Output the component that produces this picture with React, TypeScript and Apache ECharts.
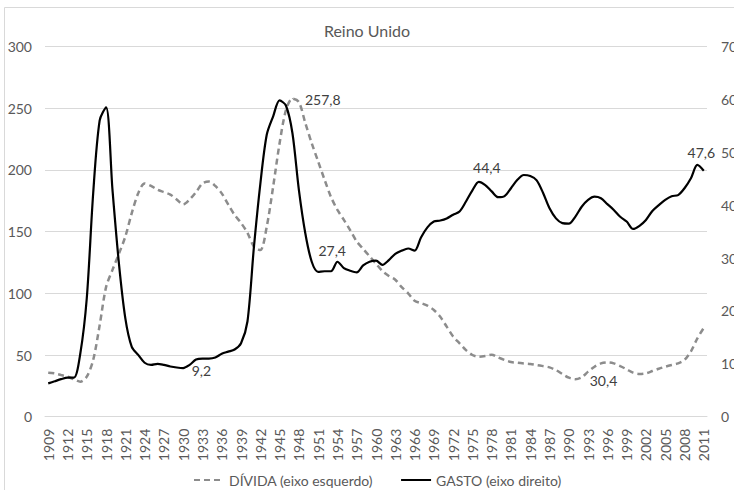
import React, { useEffect, useRef } from "react";
import * as echarts from "echarts";

const years: string[] = [
  "1909","1910","1911","1912","1913","1914","1915","1916","1917","1918",
  "1919","1920","1921","1922","1923","1924","1925","1926","1927","1928",
  "1929","1930","1931","1932","1933","1934","1935","1936","1937","1938",
  "1939","1940","1941","1942","1943","1944","1945","1946","1947","1948",
  "1949","1950","1951","1952","1953","1954","1955","1956","1957","1958",
  "1959","1960","1961","1962","1963","1964","1965","1966","1967","1968",
  "1969","1970","1971","1972","1973","1974","1975","1976","1977","1978",
  "1979","1980","1981","1982","1983","1984","1985","1986","1987","1988",
  "1989","1990","1991","1992","1993","1994","1995","1996","1997","1998",
  "1999","2000","2001","2002","2003","2004","2005","2006","2007","2008",
  "2009","2010","2011",
];

// DÍVIDA (% PIB) – left axis
const debt: number[] = [
  35.7, 35.1, 33.8, 32.4, 30.3, 28.4, 32.4, 46, 74, 105,
  119, 132, 146, 165, 181, 189, 187, 184, 182, 180,
  176, 172, 176, 182, 189, 190.5, 187, 181, 172, 163.5,
  157, 149, 138, 135, 154, 186.5, 221.6, 248.6, 257.8, 255,
  238, 221.6, 206.8, 192, 178, 167.6, 159.5, 151, 142, 136,
  130, 124, 118, 114, 111, 105, 100, 94, 92, 90,
  86.5, 81, 73, 65, 59.5, 54, 50, 48.6, 49.2, 50.3,
  48, 46, 44.3, 43.8, 43.2, 42.7, 41.9, 41, 40, 37.8,
  34.6, 31.6, 30.4, 31.9, 36.5, 40.5, 43.2, 44, 43.2, 41,
  38.4, 35.7, 34.6, 35.1, 37, 38.9, 40.5, 41.9, 43.2, 46,
  53, 63.5, 72,
];

// GASTO (% PIB) – right axis
const spending: number[] = [
  6.3, 6.7, 7.1, 7.4, 7.4, 12.0, 22.4, 42.3, 56.0, 58.5,
  42.9, 29.0, 18.6, 13.2, 11.7, 10.2, 9.8, 10.0, 9.8, 9.5,
  9.3, 9.2, 9.8, 10.8, 11.0, 11.0, 11.2, 11.9, 12.3, 12.7,
  13.9, 18.0, 32.0, 44.0, 53.3, 56.8, 59.8, 58.8, 53.6, 42.9,
  34.7, 29.3, 27.4, 27.5, 27.5, 29.3, 28.1, 27.6, 27.3, 28.6,
  29.3, 29.5, 28.7, 29.6, 30.8, 31.4, 31.8, 31.4, 33.9, 35.8,
  36.9, 37.1, 37.5, 38.2, 38.8, 40.7, 42.8, 44.4, 43.8, 42.6,
  41.5, 41.7, 43.2, 44.8, 45.7, 45.5, 44.7, 42.3, 39.4, 37.5,
  36.6, 36.5, 37.8, 39.7, 41.0, 41.6, 41.3, 40.2, 39.1, 37.8,
  36.9, 35.5, 36.1, 37.2, 38.9, 40.0, 41.0, 41.7, 41.9, 43.2,
  45.1, 47.6, 46.5,
];

const leftTicks = { min: 0, max: 300, interval: 50 };
const rightTicks = { min: 0, max: 70, interval: 10 };

// annotated points: year -> label text
const debtLabels: { year: string; text: string }[] = [
  { year: "1947", text: "257,8" },
  { year: "1991", text: "30,4" },
];
const spendingLabels: { year: string; text: string }[] = [
  { year: "1930", text: "9,2" },
  { year: "1951", text: "27,4" },
  { year: "1976", text: "44,4" },
  { year: "2010", text: "47,6" },
];

const FONT = "Lato, 'Open Sans', sans-serif";
const TEXT = "#595959";

const labelStyles: Record<string, any> = {
  "257,8": { position: "right", distance: 12, offset: [0, 1] },
  "30,4": { position: "right", distance: 14, offset: [0, 1] },
  "9,2": { position: "right", distance: 8, offset: [0, 2] },
  "27,4": { position: "top", distance: 5, offset: [14, -9] },
  "44,4": { position: "top", distance: 5, offset: [8, -2] },
  "47,6": { position: "top", distance: 5, offset: [4, 0] },
};

function buildData(values: number[], labels: { year: string; text: string }[]) {
  return values.map((v, i) => {
    const l = labels.find((x) => x.year === years[i]);
    if (!l) return v;
    return {
      value: v,
      symbol: "circle",
      symbolSize: 1,
      label: {
        show: true,
        formatter: l.text,
        color: "#404040",
        fontSize: 14,
        fontFamily: FONT,
        ...labelStyles[l.text],
      },
    };
  });
}

export default function App() {
  const ref = useRef<HTMLDivElement>(null);
  useEffect(() => {
    if (!ref.current) return;
    const chart = echarts.init(ref.current, null, { renderer: "svg" });
    chart.setOption({
      animation: false,
      backgroundColor: "#ffffff",
      textStyle: { fontFamily: FONT },
      title: {
        text: "Reino Unido",
        left: "center",
        top: 17,
        textStyle: { fontSize: 16, fontWeight: "normal", color: TEXT, fontFamily: FONT },
      },
      grid: {
        left: 45,
        right: 27,
        top: 46.5,
        bottom: 73.3,
        containLabel: false,
        outerBoundsMode: "none",
      },
      legend: {
        top: 468,
        left: 188,
        itemWidth: 30,
        itemHeight: 14,
        itemGap: 27,
        itemStyle: { opacity: 0 },
        textStyle: { fontSize: 14, color: TEXT, fontFamily: FONT },
        data: ["DÍVIDA (eixo esquerdo)", "GASTO (eixo direito)"],
      },
      graphic: [
        {
          type: "rect",
          silent: true,
          z: -1,
          shape: { x: 4.5, y: 7.5, width: 800, height: 600 },
          style: { fill: "none", stroke: "#d9d9d9", lineWidth: 1 },
        },
      ],
      xAxis: {
        type: "category",
        data: years,
        boundaryGap: true,
        axisLine: { show: true, lineStyle: { color: "#d9d9d9", width: 1 } },
        axisTick: { show: false },
        axisLabel: {
          rotate: 90,
          interval: 2,
          color: TEXT,
          fontSize: 14,
          fontFamily: FONT,
          margin: 12,
        },
        splitLine: { show: false },
      },
      yAxis: [
        {
          type: "value",
          position: "left",
          ...leftTicks,
          axisLine: { show: false },
          axisTick: { show: false },
          axisLabel: { color: TEXT, fontSize: 14, fontFamily: FONT, margin: 13 },
          splitLine: { show: true, lineStyle: { color: "#d9d9d9", width: 1 } },
        },
        {
          type: "value",
          position: "right",
          ...rightTicks,
          axisLine: { show: false },
          axisTick: { show: false },
          axisLabel: { color: TEXT, fontSize: 14, fontFamily: FONT, margin: 14 },
          splitLine: { show: false },
        },
      ],
      series: [
        {
          name: "DÍVIDA (eixo esquerdo)",
          type: "line",
          yAxisIndex: 0,
          data: buildData(debt, debtLabels),
          symbol: "none",
          showAllSymbol: true,
          smooth: 0.3,
          lineStyle: { color: "#8c8c8c", width: 2.5, type: [6, 4] },
          itemStyle: { color: "#8c8c8c" },
          z: 2,
        },
        {
          name: "GASTO (eixo direito)",
          type: "line",
          yAxisIndex: 1,
          data: buildData(spending, spendingLabels),
          symbol: "none",
          showAllSymbol: true,
          smooth: 0.3,
          lineStyle: { color: "#000000", width: 2.2 },
          itemStyle: { color: "#000000" },
          z: 3,
        },
      ],
    });
    return () => chart.dispose();
  }, []);
  return (
    <div
      ref={ref}
      style={{ position: "absolute", left: 0, top: 0, width: 734, height: 490 }}
    />
  );
}
